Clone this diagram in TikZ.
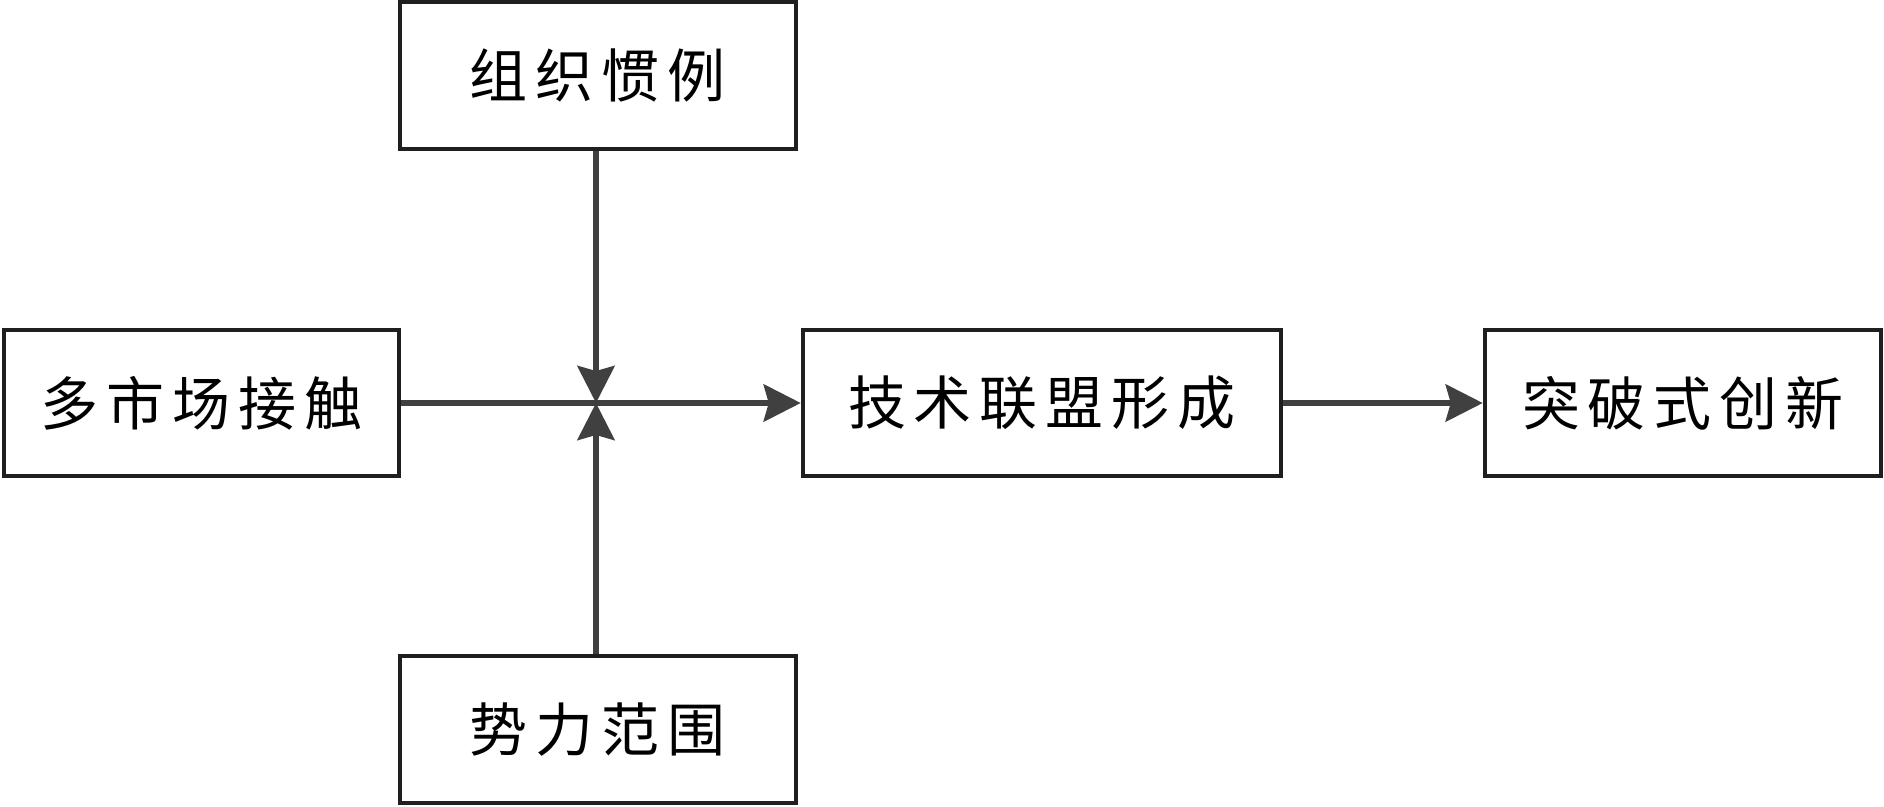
\documentclass[tikz,border=0pt]{standalone}
\usepackage{fontspec}
\newfontfamily\cjk{Noto Sans CJK SC}
\usetikzlibrary{arrows.meta}
\definecolor{boxline}{HTML}{1F1F1F}
\definecolor{conn}{HTML}{404040}
\newcommand\ls{\hspace{8pt}}
\tikzset{
  box/.style={draw=boxline, line width=4.5pt, rectangle, inner sep=0pt,
    font=\cjk\fontsize{58}{62}\selectfont, text=black},
  link/.style={draw=conn, line width=6pt,
    -{Stealth[length=37pt, width=37pt, inset=5pt]}},
}
\begin{document}
\begin{tikzpicture}[x=1pt, y=-1pt]
\useasboundingbox[fill=white] (0,0) rectangle (1884,806);
\node[box, minimum width=396pt, minimum height=147pt] (top) at (597.75,75.5) {组\ls 织\ls 惯\ls 例};
\node[box, minimum width=395pt, minimum height=146pt] (left) at (201.5,403) {多\ls 市\ls 场\ls 接\ls 触};
\node[box, minimum width=396pt, minimum height=147pt] (bot) at (597.75,729.5) {势\ls 力\ls 范\ls 围};
\node[box, minimum width=478pt, minimum height=146pt] (mid) at (1042,403) {技\ls 术\ls 联\ls 盟\ls 形\ls 成};
\node[box, minimum width=396pt, minimum height=146pt] (right) at (1683,403) {突\ls 破\ls 式\ls 创\ls 新};
\coordinate (j) at (596,403);
\draw[link] (left.east) -- (mid.west);
\draw[link] (top.south -| j) -- (j);
\draw[link] (bot.north -| j) -- (j);
\draw[link] (mid.east) -- (right.west);
\end{tikzpicture}
\end{document}
